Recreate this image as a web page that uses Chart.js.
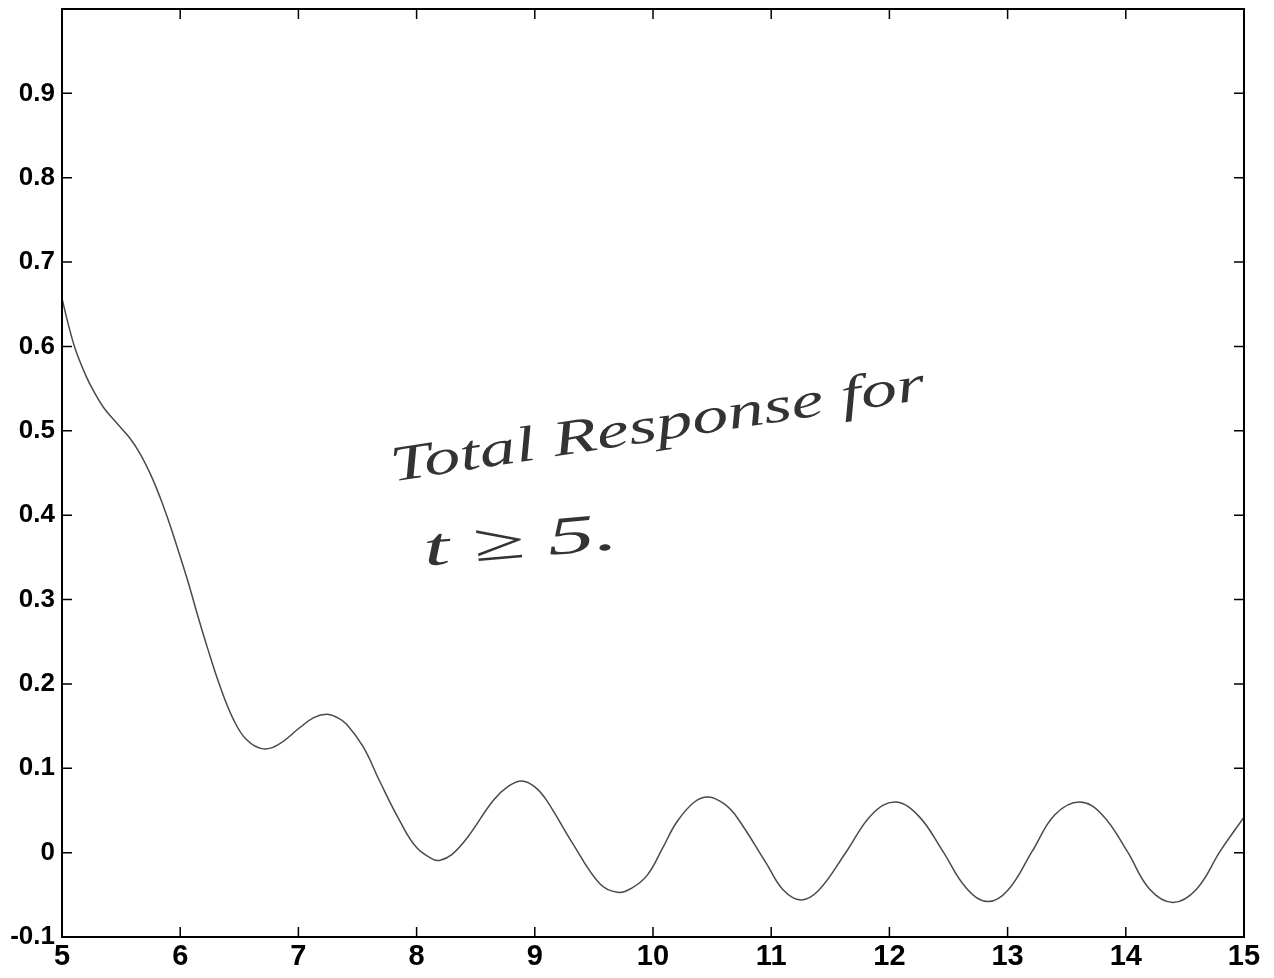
<!DOCTYPE html>
<html>
<head>
<meta charset="utf-8">
<script src="https://cdn.jsdelivr.net/npm/chart.js@4.4.1/dist/chart.umd.min.js"></script>
<style>
html,body{margin:0;padding:0;background:#fff;}
#wrap{width:1274px;height:978px;position:relative;}
</style>
</head>
<body>
<div id="wrap"><canvas id="c" width="1274" height="978"></canvas></div>
<script>
// time values (t) and response values
const tValues = [5.00,5.05,5.11,5.20,5.26,5.35,5.47,5.57,5.66,5.75,5.83,5.90,5.97,6.06,6.14,6.23,6.34,6.45,6.56,6.70,6.84,7.01,7.13,7.24,7.33,7.41,7.55,7.69,7.86,8.00,8.14,8.20,8.30,8.43,8.65,8.78,8.89,9.00,9.10,9.32,9.55,9.70,9.82,9.95,10.08,10.20,10.35,10.47,10.60,10.71,10.96,11.10,11.25,11.40,11.64,11.85,12.05,12.25,12.45,12.65,12.83,13.00,13.21,13.40,13.61,13.80,14.01,14.20,14.40,14.60,14.80,15.00];
const responseValues = [0.657,0.628,0.598,0.566,0.549,0.528,0.508,0.492,0.473,0.448,0.421,0.394,0.364,0.324,0.285,0.243,0.196,0.158,0.134,0.123,0.129,0.148,0.160,0.164,0.160,0.152,0.125,0.084,0.037,0.006,-0.008,-0.009,-0.002,0.018,0.062,0.079,0.085,0.078,0.062,0.011,-0.037,-0.047,-0.042,-0.027,0.005,0.036,0.060,0.066,0.058,0.042,-0.013,-0.044,-0.056,-0.045,0.002,0.045,0.060,0.043,0.002,-0.042,-0.058,-0.045,0.002,0.045,0.060,0.045,0.002,-0.043,-0.059,-0.043,0.002,0.042];
const xTicks = [5,6,7,8,9,10,11,12,13,14,15];
const yTickLabels = ['-0.1','0','0.1','0.2','0.3','0.4','0.5','0.6','0.7','0.8','0.9',''];
const noteLine1 = 'Total Response for';
const noteLine2 = 't \u2265 5.';

const points = tValues.map((t,i)=>({x:t,y:responseValues[i]}));

const frame = {
  id:'frame',
  afterDraw(chart){
    const {ctx, chartArea:a, scales:{x,y}} = chart;
    ctx.save();
    ctx.strokeStyle='#000';
    ctx.lineWidth=1.5;
    const L=10;
    ctx.beginPath();
    x.ticks.forEach(tk=>{
      const px=x.getPixelForValue(tk.value);
      ctx.moveTo(px,a.bottom); ctx.lineTo(px,a.bottom-L);
      ctx.moveTo(px,a.top); ctx.lineTo(px,a.top+L);
    });
    y.ticks.forEach(tk=>{
      const py=y.getPixelForValue(tk.value);
      ctx.moveTo(a.left,py); ctx.lineTo(a.left+L,py);
      ctx.moveTo(a.right,py); ctx.lineTo(a.right-L,py);
    });
    ctx.stroke();
    ctx.lineWidth=2;
    ctx.strokeRect(a.left,a.top,a.right-a.left,a.bottom-a.top);
    // handwritten note, anchored in data coordinates
    ctx.fillStyle='#333';
    const drawNote=(text,tx,ty,ang,size,width)=>{
      ctx.save();
      ctx.translate(x.getPixelForValue(tx),y.getPixelForValue(ty));
      ctx.rotate(ang*Math.PI/180);
      ctx.font='italic '+size+'px "Liberation Serif"';
      const w=ctx.measureText(text).width;
      ctx.scale(width/w,1);
      ctx.textBaseline='alphabetic';
      ctx.fillText(text,0,0);
      ctx.restore();
    };
    drawNote(noteLine1,7.8,0.44,-8.8,50,540);
    drawNote(noteLine2,8.07,0.34,-5,54,195);
    ctx.restore();
  }
};

new Chart(document.getElementById('c'),{
  type:'scatter',
  data:{datasets:[{
    data:points,
    showLine:true,
    borderColor:'#4a4a4a',
    borderWidth:1.5,
    pointRadius:0,
    tension:0.4,
    fill:false
  }]},
  options:{
    responsive:false,
    animation:false,
    layout:{padding:{top:9,right:30,left:0,bottom:0}},
    plugins:{legend:{display:false},tooltip:{enabled:false}},
    scales:{
      x:{
        type:'linear',min:5,max:15,
        afterBuildTicks(s){ s.ticks = xTicks.map(v=>({value:v})); },
        afterFit(s){ s.height=41; s.paddingLeft=0; s.paddingRight=0; },
        grid:{display:false,drawTicks:false},
        border:{display:false},
        ticks:{padding:8,color:'#000',font:{family:'"Liberation Sans", Arial',size:29,weight:'bold',lineHeight:0.8},
          callback:(v)=>String(v),maxRotation:0,autoSkip:false}
      },
      y:{
        type:'linear',min:-0.1,max:1,
        afterBuildTicks(s){ s.ticks = yTickLabels.map((l,i)=>({value:(i-1)/10})); },
        afterFit(s){ s.width=62; s.paddingTop=0; s.paddingBottom=0; },
        grid:{display:false,drawTicks:false},
        border:{display:false},
        ticks:{padding:7,color:'#000',font:{family:'"Liberation Sans", Arial',size:26,weight:'bold',lineHeight:0.6},
          callback:(v,i)=>yTickLabels[i],autoSkip:false}
      }
    }
  },
  plugins:[frame]
});
</script>
</body>
</html>
